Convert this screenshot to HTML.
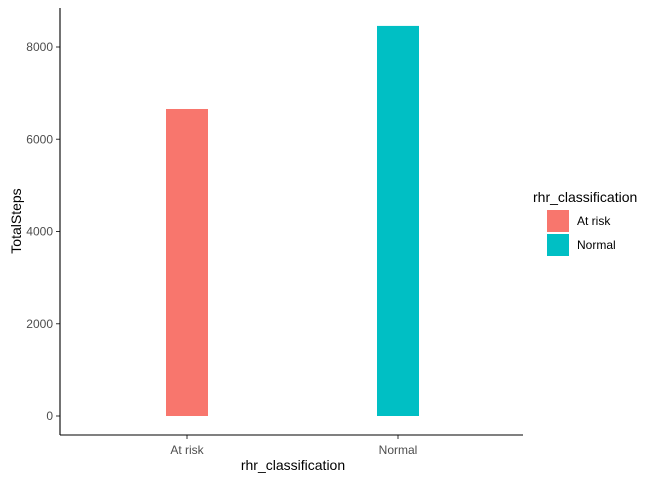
<!DOCTYPE html>
<html><head><meta charset="utf-8"><style>
html,body{margin:0;padding:0;background:#fff;}
svg{display:block;font-family:"Liberation Sans",Arial,sans-serif;}
</style></head><body>
<svg id="chart" width="672" height="480">
<g id="plot"></g>
<text x="293" y="470" font-size="14" fill="#000" text-anchor="middle">rhr_classification</text>
<text transform="translate(21,221) rotate(-90)" font-size="14" fill="#000" text-anchor="middle">TotalSteps</text>
<g>
<text x="533" y="202" font-size="14" fill="#000">rhr_classification</text>
<g id="legend-items"></g>
</g>
</svg>
<script>
const categories = ["At risk", "Normal"];
const totalSteps = [6656, 8457];
const colors = ["#F8766D", "#00BFC4"];
const yTicks = [0, 2000, 4000, 6000, 8000];
const NS = "http://www.w3.org/2000/svg";
const plot = document.getElementById("plot");
const x0 = 60, x1 = 523, yBase = 435, yTop = 8;
function yScale(v){ return 416 - v * 0.046125; }
function xScale(i){ return 187 + i * 211; }
function mk(tag, attrs, parent){ const e = document.createElementNS(NS, tag); for (const k in attrs) e.setAttribute(k, attrs[k]); parent.appendChild(e); return e; }
categories.forEach((c, i) => {
  const v = totalSteps[i];
  const r = mk("rect", {x: xScale(i) - 21, y: yScale(v), width: 42, height: yScale(0) - yScale(v), fill: colors[i]}, plot);
  
  
  const t = mk("line", {x1: xScale(i), x2: xScale(i), y1: yBase, y2: yBase + 4, stroke: "#333", "stroke-width": 1}, plot);
  
  
  const l = mk("text", {x: xScale(i), y: yBase + 19, "font-size": 12, fill: "#4d4d4d", "text-anchor": "middle"}, plot);
  l.textContent = c;
  
  
});
yTicks.forEach(v => {
  const y = yScale(v);
  const t = mk("line", {x1: x0 - 4, x2: x0, y1: y, y2: y, stroke: "#333", "stroke-width": 1}, plot);
  
  
  const l = mk("text", {x: x0 - 7, y: y + 4, "font-size": 12, fill: "#4d4d4d", "text-anchor": "end"}, plot);
  l.textContent = v;
  
  
});
const ya = mk("line", {x1: x0, x2: x0, y1: yTop, y2: yBase, stroke: "#000", "stroke-width": 1.1}, plot);


const xa = mk("line", {x1: x0, x2: x1, y1: yBase, y2: yBase, stroke: "#000", "stroke-width": 1.1}, plot);


const leg = document.getElementById("legend-items");
categories.forEach((c, i) => {
  const y = 210 + i * 24;
  const r = mk("rect", {x: 547, y: y, width: 22, height: 22, fill: colors[i]}, leg);
  
  
  const t = mk("text", {x: 577, y: y + 15, "font-size": 12, fill: "#000"}, leg);
  t.textContent = c;
  
  
});
</script>
</body></html>
